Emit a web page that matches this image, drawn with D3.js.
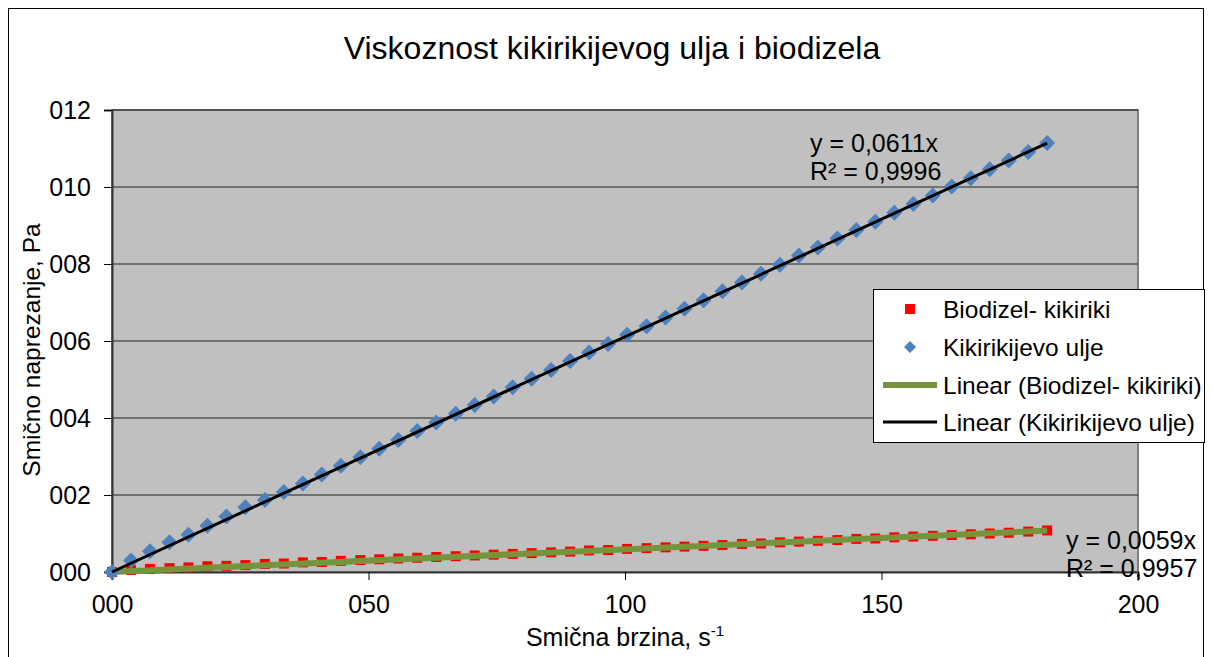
<!DOCTYPE html>
<html>
<head>
<meta charset="utf-8">
<script src="https://cdn.jsdelivr.net/npm/d3@7"></script>
<style>
  body { margin: 0; background: #fff; }
  text { font-family: "Liberation Sans", Arial, sans-serif; }
</style>
</head>
<body>
<div id="chart"></div>
<script>
// shear rate (s-1)
const shearRate = [0, 3.7, 7.4, 11.2, 14.9, 18.6, 22.3, 26.0, 29.8, 33.5,
  37.2, 40.9, 44.6, 48.4, 52.1, 55.8, 59.5, 63.2, 67.0, 70.7,
  74.4, 78.1, 81.8, 85.6, 89.3, 93.0, 96.7, 100.4, 104.2, 107.9,
  111.6, 115.3, 119.0, 122.8, 126.5, 130.2, 133.9, 137.6, 141.4, 145.1,
  148.8, 152.5, 156.2, 160.0, 163.7, 167.4, 171.1, 174.8, 178.6, 182.3];

// peanut oil shear stress
const oilStress = [0, 0.30, 0.54, 0.77, 0.97, 1.20, 1.44, 1.68, 1.87, 2.08,
  2.30, 2.53, 2.76, 2.98, 3.20, 3.43, 3.66, 3.88, 4.11, 4.34,
  4.56, 4.80, 5.02, 5.25, 5.48, 5.70, 5.92, 6.16, 6.38, 6.61,
  6.84, 7.06, 7.29, 7.52, 7.75, 7.98, 8.22, 8.43, 8.66, 8.88,
  9.10, 9.33, 9.56, 9.78, 10.01, 10.23, 10.46, 10.69, 10.91, 11.14];

// biodiesel shear stress
const bioStress = [0, 0.05, 0.08, 0.10, 0.12, 0.15, 0.16, 0.18, 0.21, 0.22,
  0.25, 0.26, 0.29, 0.31, 0.33, 0.35, 0.37, 0.39, 0.41, 0.43,
  0.45, 0.47, 0.49, 0.51, 0.53, 0.56, 0.57, 0.60, 0.62, 0.64,
  0.66, 0.68, 0.70, 0.73, 0.74, 0.77, 0.79, 0.81, 0.83, 0.86,
  0.87, 0.90, 0.92, 0.94, 0.96, 0.98, 1.00, 1.02, 1.05, 1.08];

const xTicks = [0, 50, 100, 150, 200];
const yTicks = [0, 2, 4, 6, 8, 10, 12];
const slopes = [0.0611, 0.0059];
const eqLabels = [["y = 0,0611x", "R² = 0,9996"], ["y = 0,0059x", "R² = 0,9957"]];
const legendNames = ["Biodizel- kikiriki", "Kikirikijevo ulje", "Linear (Biodizel- kikiriki)", "Linear (Kikirikijevo ulje)"];

const W = 1213, H = 657;
const plot = {left: 112, top: 110, right: 1138, bottom: 572};

const svg = d3.select("#chart").append("svg")
  .attr("width", W).attr("height", H);

// outer chart border
svg.append("rect")
  .attr("x", 8.5).attr("y", 8.5).attr("width", 1195).attr("height", 700)
  .attr("fill", "#fff").attr("stroke", "#000").attr("stroke-width", 1);

const x = d3.scaleLinear().domain([0, 200]).range([plot.left, plot.right]);
const y = d3.scaleLinear().domain([0, 12]).range([plot.bottom, plot.top]);

// plot area
svg.append("rect")
  .attr("x", plot.left).attr("y", plot.top)
  .attr("width", plot.right - plot.left).attr("height", plot.bottom - plot.top)
  .attr("fill", "#c0c0c0").attr("stroke", "#808080").attr("stroke-width", 2);

// grid
svg.append("g").selectAll("line")
  .data(yTicks.slice(1))
  .join("line")
    .attr("x1", plot.left).attr("x2", plot.right)
    .attr("y1", d => y(d)).attr("y2", d => y(d))
    .attr("stroke", "#222").attr("stroke-width", 1);

const fmt = d => d3.format("03d")(d);

// axes
const xAxis = svg.append("g")
  .attr("transform", `translate(0,${plot.bottom})`)
  .call(d3.axisBottom(x).tickValues(xTicks).tickFormat(fmt).tickSize(8).tickPadding(15));
const yAxis = svg.append("g")
  .attr("transform", `translate(${plot.left},0)`)
  .call(d3.axisLeft(y).tickValues(yTicks).tickFormat(fmt).tickSize(8).tickPadding(13));
[xAxis, yAxis].forEach(a => {
  a.select(".domain").attr("stroke", "#333").attr("stroke-width", 2);
  a.selectAll(".tick line").attr("stroke", "#000");
  a.selectAll("text").attr("font-size", 25).attr("fill", "#000")
    .style("font-family", "'Liberation Sans', Arial, sans-serif");
});
xAxis.selectAll("text").attr("dy", "0.71em");

const xMax = d3.max(shearRate);
const oilData = shearRate.map((v, i) => ({x: v, y: oilStress[i]}));
const bioData = shearRate.map((v, i) => ({x: v, y: bioStress[i]}));

// biodiesel squares
svg.append("g").selectAll("rect")
  .data(bioData)
  .join("rect")
    .attr("x", d => x(d.x) - 5).attr("y", d => y(d.y) - 5)
    .attr("width", 10).attr("height", 10)
    .attr("fill", "#ff0000");

// biodiesel trend line
svg.append("line")
  .attr("x1", x(0)).attr("y1", y(0)).attr("x2", x(xMax)).attr("y2", y(slopes[1] * xMax))
  .attr("stroke", "#77933c").attr("stroke-width", 6);

// peanut oil diamonds
const diamond = "M0,-8L8,0L0,8L-8,0Z";
svg.append("g").selectAll("path")
  .data(oilData)
  .join("path")
    .attr("d", diamond)
    .attr("transform", d => `translate(${x(d.x)},${y(d.y)})`)
    .attr("fill", "#4f81bd");

// peanut oil trend line
svg.append("line")
  .attr("x1", x(0)).attr("y1", y(0)).attr("x2", x(xMax)).attr("y2", y(slopes[0] * xMax))
  .attr("stroke", "#000").attr("stroke-width", 3);

// equation labels
const eqPos = [[810, 152], [1066, 549]];
eqLabels.forEach((lines, i) => {
  svg.append("g").selectAll("text")
    .data(lines)
    .join("text")
      .attr("x", eqPos[i][0]).attr("y", (d, j) => eqPos[i][1] + j * 28)
      .attr("font-size", 25).attr("fill", "#000")
      .text(d => d);
});

// title
svg.append("text")
  .attr("x", 612).attr("y", 59).attr("text-anchor", "middle")
  .attr("font-size", 32).text("Viskoznost kikirikijevog ulja i biodizela");

// axis titles
const xt = svg.append("text")
  .attr("x", 625).attr("y", 646).attr("text-anchor", "middle")
  .attr("font-size", 25);
xt.append("tspan").text("Smična brzina, s");
xt.append("tspan").attr("dy", -10).attr("font-size", 15).text("-1");

svg.append("text")
  .attr("transform", `translate(40,350) rotate(-90)`)
  .attr("text-anchor", "middle").attr("font-size", 24.5)
  .text("Smično naprezanje, Pa");

// legend
const lg = svg.append("g").attr("transform", "translate(873,289)");
lg.append("rect").attr("x", 0.5).attr("y", 0.5).attr("width", 331).attr("height", 153)
  .attr("fill", "#fff").attr("stroke", "#000");
const rowY = [20, 58, 96, 133];
lg.append("rect").attr("x", 32).attr("y", rowY[0] - 5).attr("width", 10).attr("height", 10).attr("fill", "#ff0000");
lg.append("path").attr("d", "M0,-6L6,0L0,6L-6,0Z").attr("transform", `translate(37,${rowY[1]})`).attr("fill", "#4f81bd");
lg.append("line").attr("x1", 10).attr("x2", 64).attr("y1", rowY[2]).attr("y2", rowY[2])
  .attr("stroke", "#77933c").attr("stroke-width", 6);
lg.append("line").attr("x1", 10).attr("x2", 64).attr("y1", rowY[3]).attr("y2", rowY[3])
  .attr("stroke", "#000").attr("stroke-width", 3);
lg.selectAll("text.lbl")
  .data(legendNames)
  .join("text")
    .attr("class", "lbl")
    .attr("x", 70).attr("y", (d, i) => rowY[i] + 9)
    .attr("font-size", 24.5)
    .text(d => d);
</script>
</body>
</html>
